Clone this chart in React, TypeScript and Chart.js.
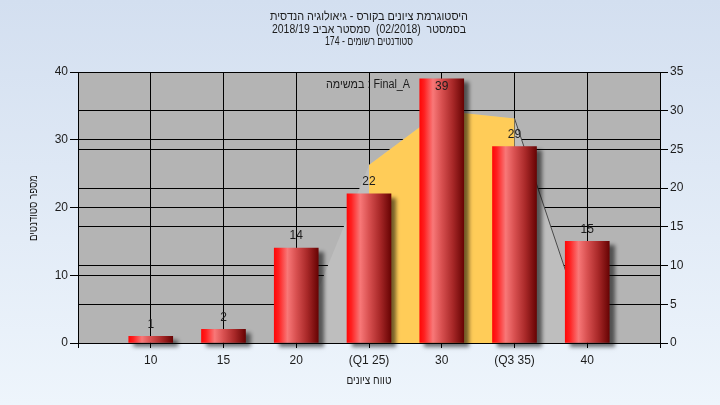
import React, { useEffect, useRef } from "react";
import { Chart, registerables } from "chart.js";

Chart.register(...registerables);

const categories = [10, 15, 20, 25, 30, 35, 40];
const tickLabels = ["10", "15", "20", "(Q1 25)", "30", "(Q3 35)", "40"];
const counts = [1, 2, 14, 22, 39, 29, 15];
const curveX = [20, 25, 30, 35, 40];
const curveY = [0, 23, 30, 29, 1];
const quartileX = [25, 30, 35];
const quartileY = [23, 30, 29];
const titleLines = [
  "היסטוגרמת ציונים בקורס - גיאולוגיה הנדסית",
  "בסמסטר  (02/2018)  סמסטר אביב 2018/19",
  "סטודנטים רשומים - 174",
];
const seriesLabel = "במשימה : Final_A";
const xTitle = "טווח ציונים";
const yTitle = "מספר סטודנטים";

const FONT = "'Liberation Sans', Arial, sans-serif";
const TEXT = "#1c1c1c";

const bgPlugin = {
  id: "bgPlugin",
  beforeDraw(chart: any) {
    const { ctx, width, height, chartArea } = chart;
    ctx.save();
    const g = ctx.createLinearGradient(0, 0, 0, height);
    g.addColorStop(0, "#d3dff0");
    g.addColorStop(1, "#eef5fc");
    ctx.fillStyle = g;
    ctx.fillRect(0, 0, width, height);
    ctx.fillStyle = "#b4b4b4";
    ctx.fillRect(chartArea.left, chartArea.top, chartArea.right - chartArea.left, chartArea.bottom - chartArea.top);
    ctx.restore();
  },
};

const shadowPlugin = {
  id: "shadowPlugin",
  beforeDatasetDraw(chart: any, args: any) {
    if (args.index !== 0) return;
    const ctx = chart.ctx;
    ctx.save();
    ctx.shadowColor = "rgba(0,0,0,0.55)";
    ctx.shadowOffsetX = 5;
    ctx.shadowOffsetY = 4;
    ctx.shadowBlur = 4;
  },
  afterDatasetDraw(chart: any, args: any) {
    if (args.index !== 0) return;
    chart.ctx.restore();
  },
};

const textPlugin = {
  id: "textPlugin",
  afterDatasetsDraw(chart: any) {
    const { ctx, chartArea } = chart;
    ctx.save();
    ctx.font = `12px ${FONT}`;
    ctx.fillStyle = TEXT;
    ctx.textAlign = "center";
    ctx.textBaseline = "middle";
    ctx.direction = "ltr";
    const meta = chart.getDatasetMeta(0);
    meta.data.forEach((el: any, i: number) => {
      const y = Math.max(el.y - 12, chartArea.top + 15);
      ctx.fillText(String(counts[i]), el.x, y);
    });
    ctx.fillText(seriesLabel, 368, 85, 84);
    ctx.direction = "rtl";
    const cx = (chartArea.left + chartArea.right) / 2;
    const widths = [198, 194, 88];
    titleLines.forEach((t, i) => {
      ctx.fillText(t, cx, 17 + i * 12.5, widths[i]);
    });
    ctx.fillText(xTitle, cx, 381, 45);
    ctx.translate(34, 208);
    ctx.rotate(-Math.PI / 2);
    ctx.fillText(yTitle, 0, 0, 66);
    ctx.restore();
  },
};

function barFill(c: any) {
  const chart = c.chart;
  const xs = chart && chart.scales && chart.scales.x;
  if (!xs || c.dataIndex === undefined || !chart.chartArea) return "#d03030";
  const px = xs.getPixelForValue(categories[c.dataIndex]);
  if (!isFinite(px)) return "#d03030";
  const g = chart.ctx.createLinearGradient(px - 22, 0, px + 22, 0);
  g.addColorStop(0, "#ff0808");
  g.addColorStop(0.1, "#ff2020");
  g.addColorStop(0.3, "#f87878");
  g.addColorStop(0.5, "#d85050");
  g.addColorStop(0.75, "#a82828");
  g.addColorStop(1, "#680404");
  return g;
}

export default function App() {
  const ref = useRef<HTMLCanvasElement | null>(null);
  useEffect(() => {
    document.body.style.margin = "0";
    const canvas = ref.current;
    if (!canvas) return;
    const chart = new Chart(canvas, {
      type: "bar",
      data: {
        datasets: [
          {
            type: "bar",
            data: categories.map((x, i) => ({ x, y: counts[i] })),
            yAxisID: "y",
            barThickness: 44,
            borderWidth: 0,
            clip: false as any,
            order: 0,
            backgroundColor: barFill,
          } as any,
          {
            type: "line",
            data: quartileX.map((x, i) => ({ x, y: quartileY[i] })),
            yAxisID: "y1",
            fill: "origin",
            backgroundColor: "#ffcc58",
            borderWidth: 0,
            borderColor: "rgba(0,0,0,0)",
            pointRadius: 0,
            tension: 0,
            order: 1,
          } as any,
          {
            type: "line",
            data: curveX.map((x, i) => ({ x, y: curveY[i] })),
            yAxisID: "y1",
            fill: "origin",
            backgroundColor: "#bebebe",
            borderWidth: 1,
            borderColor: "rgba(0,0,0,0)",
            segment: {
              borderColor: (s: any) => (s.p0.parsed.x >= 35 ? "#4a4a4a" : "rgba(0,0,0,0)"),
            },
            pointRadius: 0,
            tension: 0,
            order: 2,
          } as any,
        ],
      },
      options: {
        animation: false,
        responsive: false,
        devicePixelRatio: 1,
        layout: { padding: { top: 72, left: 0, right: 0, bottom: 0 } },
        plugins: {
          legend: { display: false },
          title: { display: false },
          tooltip: { enabled: false },
        },
        scales: {
          x: {
            type: "linear",
            min: 5,
            max: 45,
            offset: false,
            grid: { color: "#000", lineWidth: 1, tickLength: 5, offset: false },
            border: { color: "#000" },
            ticks: {
              stepSize: 5,
              autoSkip: false,
              maxRotation: 0,
              padding: 5,
              color: TEXT,
              font: { family: FONT, size: 12 },
              callback: (v: any) => {
                const i = categories.indexOf(Number(v));
                return i >= 0 ? tickLabels[i] : "";
              },
            },
            afterFit: (s: any) => {
              s.height = 62;
            },
          },
          y: {
            type: "linear",
            position: "left",
            min: 0,
            max: 40,
            grid: { color: "#000", lineWidth: 1, tickLength: 8 },
            border: { color: "#000" },
            ticks: { stepSize: 10, padding: 2, color: TEXT, font: { family: FONT, size: 12 } },
            afterFit: (s: any) => {
              s.width = 78;
            },
          },
          y1: {
            type: "linear",
            position: "right",
            min: 0,
            max: 35,
            grid: { color: "#000", lineWidth: 1, tickLength: 8 },
            border: { color: "#000" },
            ticks: { stepSize: 5, padding: 2, color: TEXT, font: { family: FONT, size: 12 } },
            afterFit: (s: any) => {
              s.width = 60;
            },
          },
        },
      } as any,
      plugins: [bgPlugin, shadowPlugin, textPlugin],
    });
    return () => chart.destroy();
  }, []);
  return (
    <div style={{ width: 720, height: 405 }}>
      <canvas ref={ref} width={720} height={405} style={{ display: "block" }} />
    </div>
  );
}
